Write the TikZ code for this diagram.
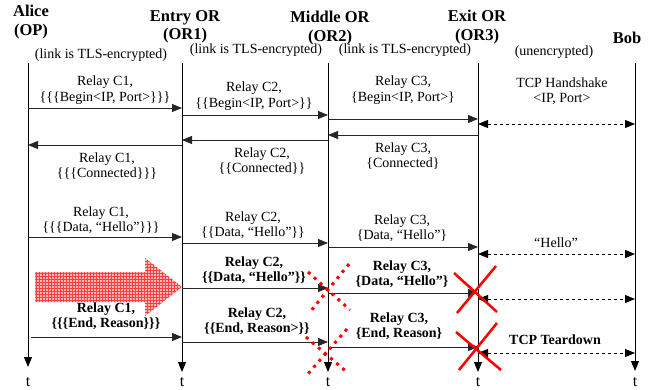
\documentclass[tikz,border=0pt]{standalone}
\usepackage{fontspec}
\setmainfont{Liberation Serif}
\usetikzlibrary{arrows.meta,patterns}

\begin{document}
\begin{tikzpicture}[x=1pt, y=-1pt,
    msg/.style={-{Triangle[length=10pt,width=8pt]}, line width=0.9pt, black!85},
    tcp/.style={{Triangle[length=10pt,width=8pt]}-{Triangle[length=10pt,width=8pt]}, line width=0.9pt, dash pattern=on 3pt off 3pt},
    life/.style={-{Triangle[length=10pt,width=8pt]}, line width=1pt},
    head/.style={align=center, inner sep=0pt, font=\bfseries\fontsize{16.5}{18.5}\selectfont},
    note/.style={inner sep=0pt, font=\fontsize{14}{15.5}\selectfont},
    lbl/.style={align=center, inner sep=0pt, font=\fontsize{14}{15.5}\selectfont},
    blbl/.style={lbl, font=\bfseries\fontsize{14}{15.5}\selectfont},
    cross/.style={red, line width=2.5pt},
    dcross/.style={red, line width=3pt, dash pattern=on 3pt off 5pt}
  ]
  \useasboundingbox (0,0) rectangle (668,390);

  \node[head] (halice) at (31,22) {Alice\\(OP)};
  \node[head] (hentry) at (185,27) {Entry OR\\(OR1)};
  \node[head] (hmiddle) at (330,28) {Middle OR\\(OR2)};
  \node[head] (hexit) at (477,27) {Exit OR\\(OR3)};
  \node[head] (hbob) at (627,38) {Bob};

  \node[note] (link1) at (101,55) {(link is TLS-encrypted)};
  \node[note] (link2) at (256,50) {(link is TLS-encrypted)};
  \node[note] (link3) at (405,50) {(link is TLS-encrypted)};
  \node[note] (plain) at (554,52) {(unencrypted)};

  \foreach \n/\x/\e in {alice/28/367, entry/182/372, middle/328/372, exit/478/372, bob/635/371} {
    \coordinate (\n) at (\x,63);
    \node[note, font=\fontsize{16}{18}\selectfont] (t\n) at (\x,382) {t};
    \draw[life] (\n) -- (\n |- 0,\e);
  }

  \draw[msg] (alice |- 0,108) -- (entry |- 0,108);
  \node[lbl] (c1begin) at (105,90) {Relay C1,\\\{\{\{Begin<IP, Port>\}\}\}};
  \draw[msg] (entry |- 0,115) -- (middle |- 0,115);
  \node[lbl] (c2begin) at (254,96) {Relay C2,\\\{\{Begin<IP, Port>\}\}};
  \draw[msg] (middle |- 0,119) -- (exit |- 0,119);
  \node[lbl] (c3begin) at (403,90) {Relay C3,\\\{Begin<IP, Port>\}};
  \draw[tcp] (exit |- 0,124) -- (bob |- 0,124);
  \node[lbl] (handshake) at (562,91) {TCP Handshake\\<IP, Port>};

  \draw[msg] (exit |- 0,135) -- (middle |- 0,135);
  \node[lbl] (c3conn) at (403,156) {Relay C3,\\\{Connected\}};
  \draw[msg] (middle |- 0,140) -- (entry |- 0,140);
  \node[lbl] (c2conn) at (262,161) {Relay C2,\\\{\{Connected\}\}};
  \draw[msg] (entry |- 0,145) -- (alice |- 0,145);
  \node[lbl] (c1conn) at (107,166) {Relay C1,\\\{\{\{Connected\}\}\}};

  \draw[msg] (alice |- 0,237) -- (entry |- 0,237);
  \node[lbl] (c1data) at (101,220) {Relay C1,\\\{\{\{Data, “Hello”\}\}\}};
  \draw[msg] (entry |- 0,243) -- (middle |- 0,243);
  \node[lbl] (c2data) at (253,225) {Relay C2,\\\{\{Data, “Hello”\}\}};
  \draw[msg] (middle |- 0,247) -- (exit |- 0,247);
  \node[lbl] (c3data) at (402,228) {Relay C3,\\\{Data, “Hello”\}};
  \draw[tcp] (exit |- 0,254) -- (bob |- 0,254);
  \node[lbl] (hello) at (556,243) {“Hello”};

  \fill[red!28] (35,272) -- (145,272) -- (145,258) -- (182,287) -- (145,316) -- (145,302) -- (35,302) -- cycle;
  \fill[pattern=grid, pattern color=red!75] (35,272) -- (145,272) -- (145,258) -- (182,287) -- (145,316) -- (145,302) -- (35,302) -- cycle;

  \draw[msg] (entry |- 0,288) -- (middle |- 0,288);
  \node[blbl] (c2attack) at (254,270) {Relay C2,\\\{\{Data, “Hello”\}\}};
  \draw[msg] (middle |- 0,293) -- (exit |- 0,293);
  \node[blbl] (c3attack) at (402,274) {Relay C3,\\\{Data, “Hello”\}};
  \draw[tcp] (exit |- 0,299) -- (bob |- 0,299);

  \draw[msg] (31,337) -- (entry |- 0,337);
  \node[blbl] (c1end) at (106,316) {Relay C1,\\\{\{\{End, Reason\}\}\}};
  \draw[msg] (entry |- 0,342) -- (middle |- 0,342);
  \node[blbl] (c2end) at (257,321) {Relay C2,\\\{\{End, Reason>\}\}};
  \draw[msg] (middle |- 0,347) -- (exit |- 0,347);
  \node[blbl] (c3end) at (399,326) {Relay C3,\\\{End, Reason\}};
  \draw[tcp] (exit |- 0,353) -- (bob |- 0,353);
  \node[blbl] (teardown) at (555,340) {TCP Teardown};

  \draw[dcross] (308,272) -- (350,310);
  \draw[dcross] (349,264) -- (310,312);
  \draw[dcross] (306,337) -- (348,373);
  \draw[dcross] (347,329) -- (307,375);

  \draw[cross] (454,273) -- (497,312);
  \draw[cross] (496,266) -- (457,313);
  \draw[cross] (456,332) -- (501,370);
  \draw[cross] (497,323) -- (459,370);
\end{tikzpicture}
\end{document}
